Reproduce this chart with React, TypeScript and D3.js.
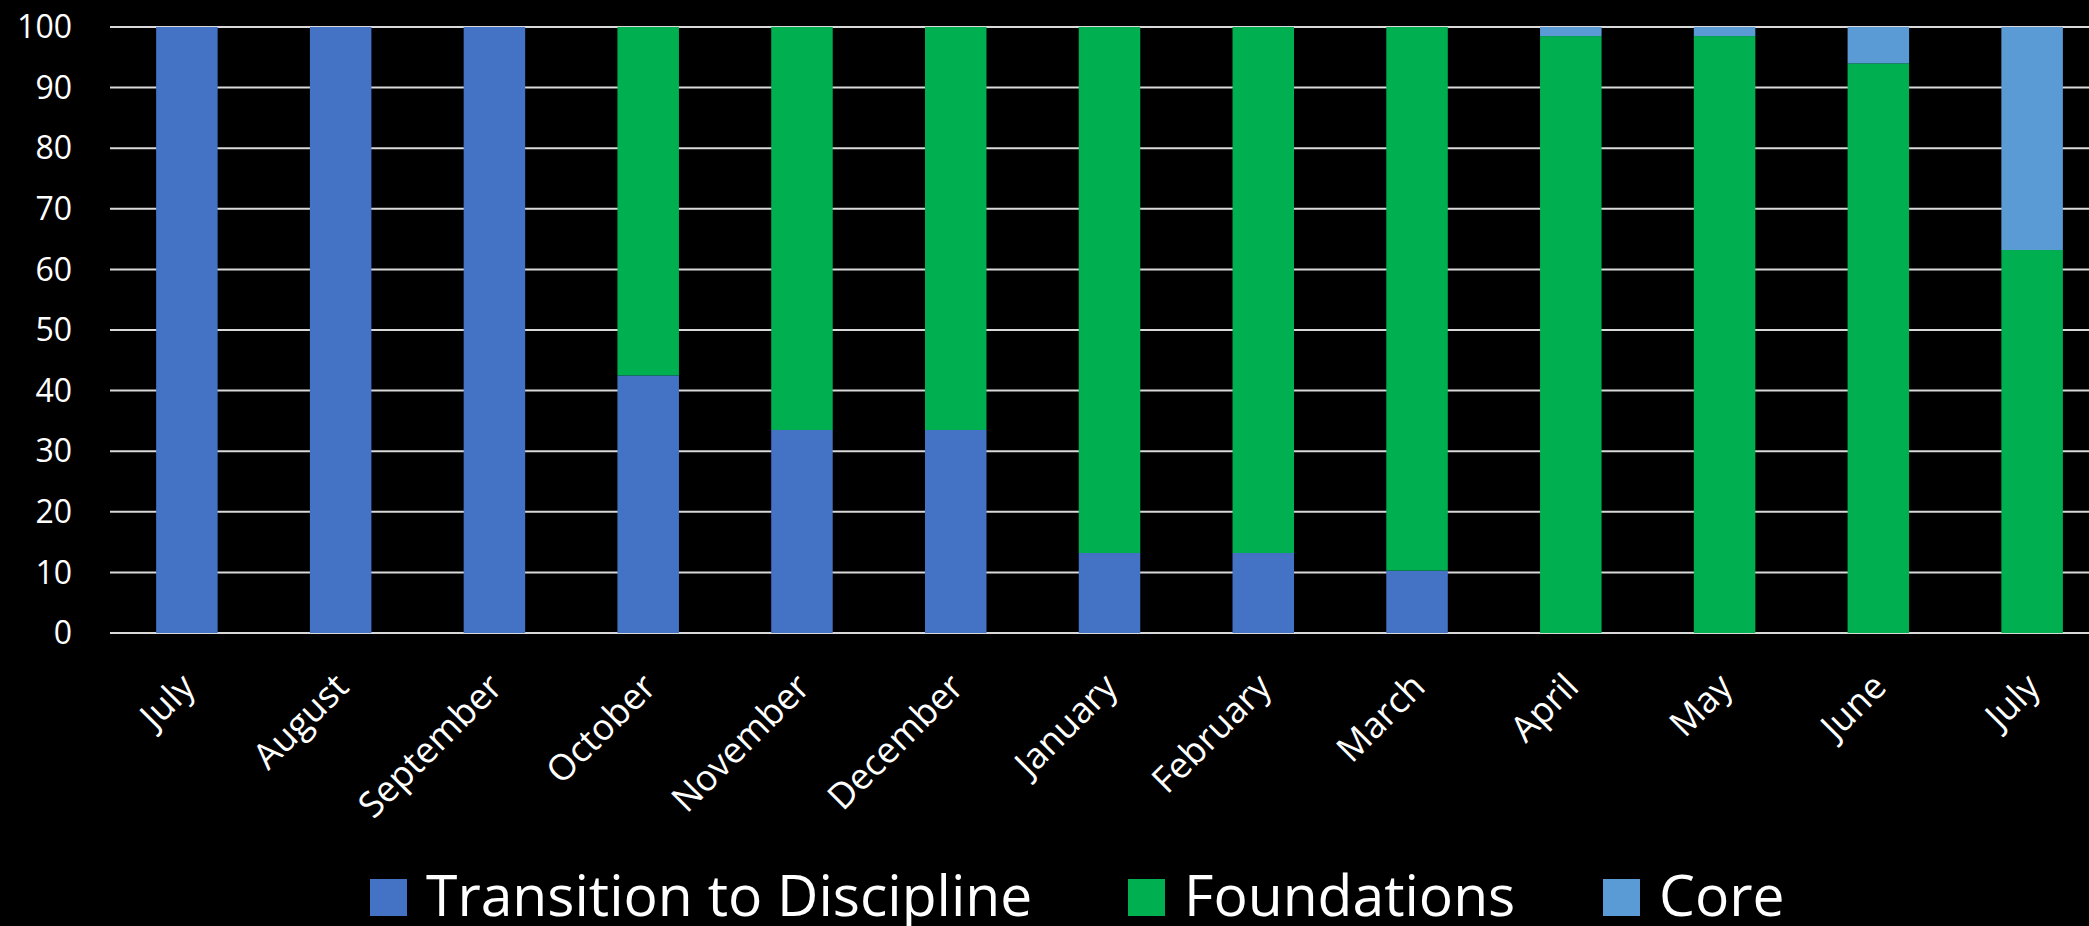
import React from "react";
import * as d3 from "d3";

const months = ["July", "August", "September", "October", "November", "December", "January", "February", "March", "April", "May", "June", "July"];
const transition = [100, 100, 100, 42.5, 33.5, 33.5, 13.2, 13.2, 10.3, 0, 0, 0, 0];
const foundations = [0, 0, 0, 57.5, 66.5, 66.5, 86.8, 86.8, 89.7, 98.5, 98.5, 94, 63.2];
const core = [0, 0, 0, 0, 0, 0, 0, 0, 0, 1.5, 1.5, 6, 36.8];
const yTicks = [0, 10, 20, 30, 40, 50, 60, 70, 80, 90, 100];

const seriesNames = ["Transition to Discipline", "Foundations", "Core"];
const seriesColors = ["#4472C4", "#00B050", "#5B9BD5"];
const legendX = [370, 1128, 1603];

const W = 2089;
const H = 926;
const FONT = "'Open Sans', sans-serif";

export default function App() {
  const idx = months.map((_, i) => i);
  const x = d3.scaleBand<number>().domain(idx).range([110, 2109]).paddingInner(0.6).paddingOuter(0.3);
  const y = d3.scaleLinear().domain([0, 100]).range([633, 27]);

  const rows = idx.map((i) => ({ i, t: transition[i], f: foundations[i], c: core[i] }));
  const stack = d3.stack<any>().keys(["t", "f", "c"]);
  const layers = stack(rows);

  return (
    <svg width={W} height={H} style={{ position: "fixed", left: 0, top: 0, background: "#000" }}>
      <rect x={0} y={0} width={W} height={H} fill="#000" />
      {yTicks.map((t) => (
        <g key={t}>
          <line x1={110} x2={W} y1={y(t)} y2={y(t)} stroke="#d9d9d9" strokeWidth={2} />
          <text x={72} y={y(t)} dy="0.35em" textAnchor="end" fill="#fff" fontFamily={FONT} fontSize={32}>
            {t}
          </text>
        </g>
      ))}
      {layers.map((layer, li) => (
        <g key={li} fill={seriesColors[li]}>
          {layer.map((d, j) =>
            d[1] - d[0] > 0 ? (
              <rect key={j} x={x(j)} width={x.bandwidth()} y={y(d[1])} height={y(d[0]) - y(d[1])} />
            ) : null
          )}
        </g>
      ))}
      {months.map((m, i) => {
        const ax = (x(i) as number) + x.bandwidth() / 2 + 10;
        const ay = 689;
        return (
          <text
            key={i}
            transform={`translate(${ax},${ay}) rotate(-45)`}
            textAnchor="end"
            fill="#fff"
            fontFamily={FONT}
            fontSize={36}
          >
            {m}
          </text>
        );
      })}
      {seriesNames.map((s, i) => (
        <g key={s}>
          <rect x={legendX[i]} y={879} width={37} height={37} fill={seriesColors[i]} />
          <text x={legendX[i] + 56} y={916} fill="#fff" fontFamily={FONT} fontSize={57}>
            {s}
          </text>
        </g>
      ))}
    </svg>
  );
}
